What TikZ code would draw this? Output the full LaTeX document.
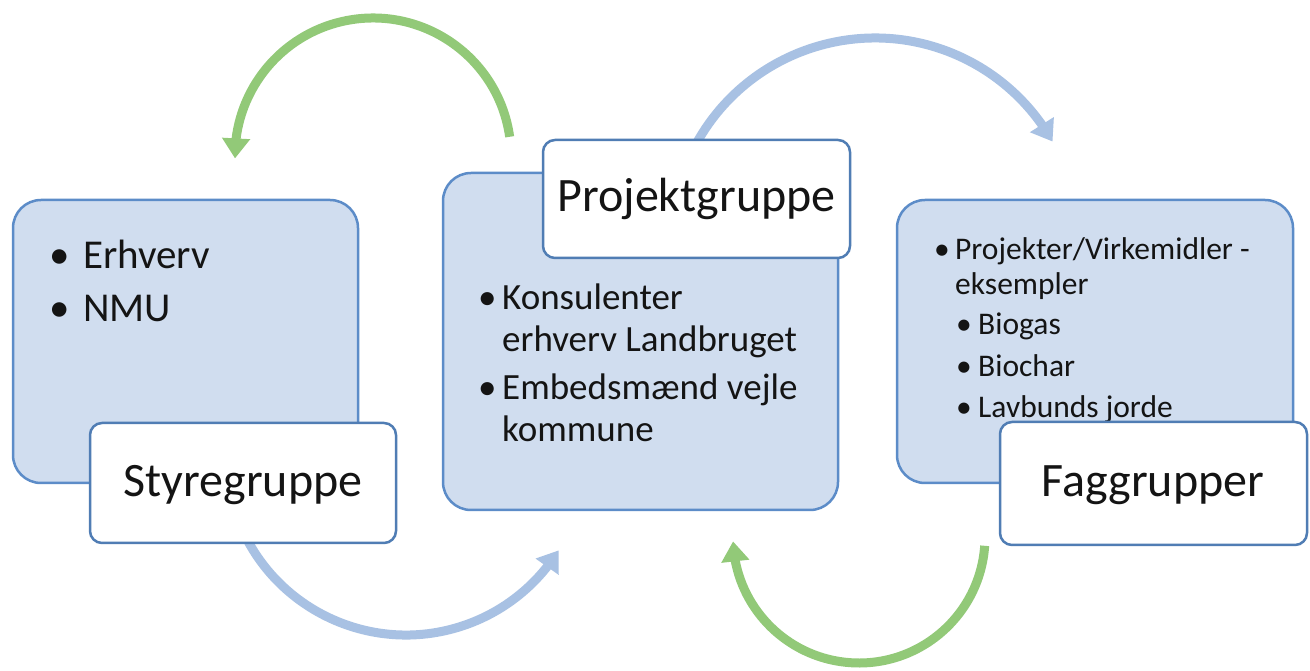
\documentclass[tikz,border=0pt]{standalone}
\usepackage{fontspec}
\setmainfont{Carlito}
\usetikzlibrary{arrows.meta,bending}
\definecolor{boxfill}{RGB}{208,221,239}
\definecolor{boxline}{RGB}{92,140,200}
\definecolor{labelline}{RGB}{80,125,180}
\definecolor{arcgreen}{RGB}{146,201,120}
\definecolor{arcblue}{RGB}{168,193,227}
\definecolor{txt}{RGB}{20,20,20}
\tikzset{
  bigbox/.style={draw=boxline, fill=boxfill, line width=2.5pt, rounded corners=28pt, inner sep=0pt, outer sep=0pt},
  labelbox/.style={draw=labelline, fill=white, line width=2.5pt, rounded corners=12pt, inner sep=0pt, outer sep=0pt},
  labeltext/.style={anchor=base, inner sep=0pt, text=txt, font=\fontsize{48}{58}\selectfont},
  lefttext/.style={anchor=base west, inner sep=0pt, text=txt, font=\fontsize{41}{50}\selectfont},
  midtext/.style={anchor=base west, inner sep=0pt, text=txt, font=\fontsize{37}{45}\selectfont},
  righttext/.style={anchor=base west, inner sep=0pt, text=txt, font=\fontsize{31.5}{38}\selectfont},
  greenarc/.style={draw=arcgreen, line width=9pt, -{Triangle[width=27pt,length=20pt]}},
  bluearc/.style={draw=arcblue, line width=9pt, -{Triangle[width=27pt,length=20pt]}},
}
\begin{document}
\begin{tikzpicture}[x=1pt,y=1pt]
\useasboundingbox[fill=white] (0,0) rectangle (1310,670);
% arc centres
\coordinate (cg1) at (373,514);
\coordinate (cb1) at (875,428);
\coordinate (cb2) at (406,215);
\coordinate (cg2) at (859,133);
% arcs
\draw[greenarc] ([shift={(8:138)}]cg1) arc[start angle=8, end angle=181, radius=138];
\draw[bluearc] ([shift={(152:204)}]cb1) arc[start angle=152, end angle=29.5, radius=204];
\draw[bluearc] ([shift={(200:180)}]cb2) arc[start angle=200, end angle=328, radius=180];
\draw[greenarc] ([shift={(-4:126)}]cg2) arc[start angle=-4, end angle=-178, radius=126];
% big boxes
\node[bigbox, minimum width=345pt, minimum height=283pt] (sbig) at (185.5,328.5) {};
\node[bigbox, minimum width=395pt, minimum height=337pt] (pbig) at (640.5,328.5) {};
\node[bigbox, minimum width=396pt, minimum height=283pt] (fbig) at (1095,328.5) {};
% left bullets
\node[lefttext] (sb1) at (49,401) {•};
\node[lefttext] (st1) at (83,401) {Erhverv};
\node[lefttext] (sb2) at (49,348) {•};
\node[lefttext] (st2) at (83,348) {NMU};
% middle bullets
\node[midtext] (pb1) at (478,360) {•};
\node[midtext] (pt1) at (502,360) {Konsulenter};
\node[midtext] (pt2) at (502,318) {erhverv Landbruget};
\node[midtext] (pb2) at (478,270) {•};
\node[midtext] (pt3) at (502,270) {Embedsmænd vejle};
\node[midtext] (pt4) at (502,228) {kommune};
% right bullets
\node[righttext] (fb1) at (934,410) {•};
\node[righttext] (ft1) at (955,410) {Projekter/Virkemidler -};
\node[righttext] (ft2) at (955,375) {eksempler};
\node[righttext] (fb2) at (956,335) {•};
\node[righttext] (ft3) at (978,335) {Biogas};
\node[righttext] (fb3) at (956,293) {•};
\node[righttext] (ft4) at (978,293) {Biochar};
\node[righttext] (fb4) at (956,252) {•};
\node[righttext] (ft5) at (978,252) {Lavbunds jorde};
% label boxes
\node[labelbox, minimum width=306pt, minimum height=120pt] (slab) at (243,187) {};
\node[labelbox, minimum width=307pt, minimum height=118pt] (plab) at (696.5,471) {};
\node[labelbox, minimum width=307pt, minimum height=123pt] (flab) at (1153.5,186.5) {};
\node[labeltext] (sname) at (243,173) {Styregruppe};
\node[labeltext] (pname) at (696.5,458) {Projektgruppe};
\node[labeltext] (fname) at (1153,173) {Faggrupper};
\end{tikzpicture}
\end{document}
